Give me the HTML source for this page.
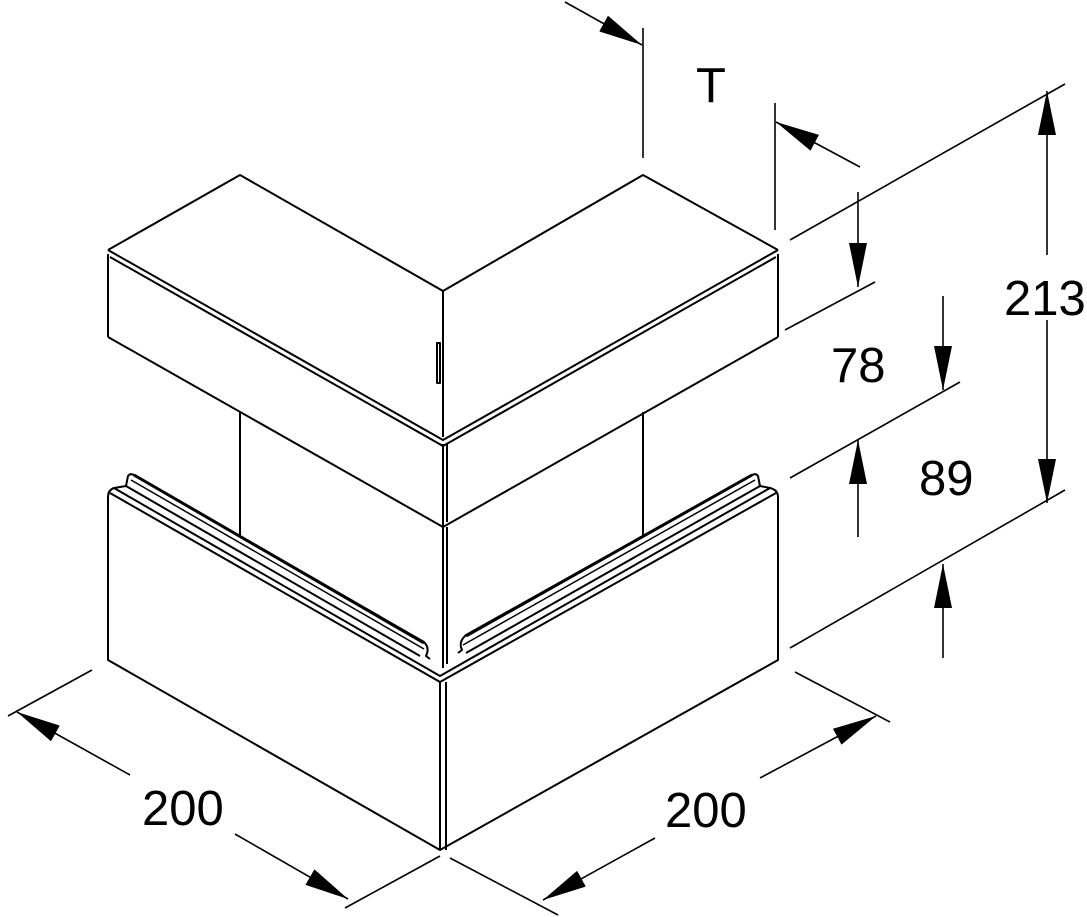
<!DOCTYPE html>
<html><head><meta charset="utf-8"><style>
html,body{margin:0;padding:0;background:#fff;}
svg{display:block}
text{font-family:"Liberation Sans",sans-serif;font-size:49px;fill:#000}
</style></head><body>
<svg width="1087" height="917" viewBox="0 0 1087 917" xmlns="http://www.w3.org/2000/svg">
<defs>
<marker id="a" viewBox="0 0 10 10" refX="10" refY="5" markerWidth="44" markerHeight="18" markerUnits="userSpaceOnUse" orient="auto" preserveAspectRatio="none">
<path d="M0,0 L10,5 L0,10 z" fill="#000"/></marker>
</defs>
<g stroke="#000" stroke-width="2" fill="none" stroke-linejoin="round">
<path d="M108,250 L240,175 L443,291 L643,175 L778,250"/>
<path d="M108,250 L443,440 L778,250"/>
<path d="M110,257 L443,446 L776,257"/>
<line x1="443" y1="291" x2="443" y2="437"/>
<rect x="437" y="343" width="3" height="40" stroke-width="2"/>
<line x1="108" y1="254" x2="108" y2="337"/>
<line x1="778" y1="254" x2="778" y2="337"/>
<line x1="443" y1="444" x2="443" y2="527"/>
<line x1="447" y1="444" x2="447" y2="522"/>
<path d="M108,337 L443,527 L778,337"/>
<line x1="240" y1="412" x2="240" y2="536"/>
<line x1="643" y1="412" x2="643" y2="536"/>
<line x1="443" y1="527" x2="443" y2="668"/>
<line x1="447" y1="527" x2="447" y2="664"/>
<path d="M108,497 Q108,490 114,488 L440,676 L770,488 Q778,490 778,497"/>
<path d="M110,493 L440,682 L776,493"/>
<path d="M108,497 L108,660 L440,850 L778,660 L778,497"/>
<line x1="440" y1="682" x2="440" y2="850"/>
<line x1="446" y1="682" x2="446" y2="850"/>
<path d="M114,488 L126,486 L128,476 Q130,473 134,475 L424,642 Q430,648 426,656 L430,659" />
<path d="M126,486 L420,656"/>
<path d="M131,480 L424,649" stroke-width="1.5"/>
<path d="M134,475 L424,643" stroke-width="3"/>
<path d="M770,488 L760,486 L758,476 Q756,473 752,475 L466,635 Q458,642 462,650 L458,653"/>
<path d="M760,486 L466,653"/>
<path d="M755,480 L463,645" stroke-width="1.5"/>
<path d="M752,475 L466,636" stroke-width="3"/>
</g>
<g stroke="#000" stroke-width="1.6" fill="none">
<line x1="643" y1="28" x2="643" y2="158"/>
<line x1="565" y1="2" x2="642" y2="45" marker-end="url(#a)"/>
<line x1="775" y1="103" x2="775" y2="230"/>
<line x1="860" y1="167" x2="776" y2="122" marker-end="url(#a)"/>
<line x1="790" y1="240" x2="1065" y2="84"/>
<line x1="785" y1="330" x2="875" y2="282"/>
<line x1="790" y1="478" x2="960" y2="382"/>
<line x1="790" y1="648" x2="1065" y2="490"/>
<line x1="1047" y1="255" x2="1047" y2="91" marker-end="url(#a)"/>
<line x1="1047" y1="320" x2="1047" y2="503" marker-end="url(#a)"/>
<line x1="858" y1="192" x2="858" y2="287" marker-end="url(#a)"/>
<line x1="943" y1="296" x2="943" y2="390" marker-end="url(#a)"/>
<line x1="858" y1="537" x2="858" y2="440" marker-end="url(#a)"/>
<line x1="943" y1="658" x2="943" y2="564" marker-end="url(#a)"/>
<line x1="92" y1="670" x2="8" y2="716"/>
<line x1="440" y1="856" x2="345" y2="908"/>
<line x1="130" y1="775" x2="17" y2="712" marker-end="url(#a)"/>
<line x1="235" y1="834" x2="348" y2="899" marker-end="url(#a)"/>
<line x1="450" y1="858" x2="558" y2="915"/>
<line x1="795" y1="672" x2="890" y2="722"/>
<line x1="760" y1="778" x2="876" y2="716" marker-end="url(#a)"/>
<line x1="655" y1="838" x2="543" y2="900" marker-end="url(#a)"/>
</g>
<text x="696" y="102">T</text>
<text x="1004" y="315">213</text>
<text x="831" y="382">78</text>
<text x="919" y="495">89</text>
<text x="142" y="825">200</text>
<text x="665" y="827">200</text>
</svg>
</body></html>
